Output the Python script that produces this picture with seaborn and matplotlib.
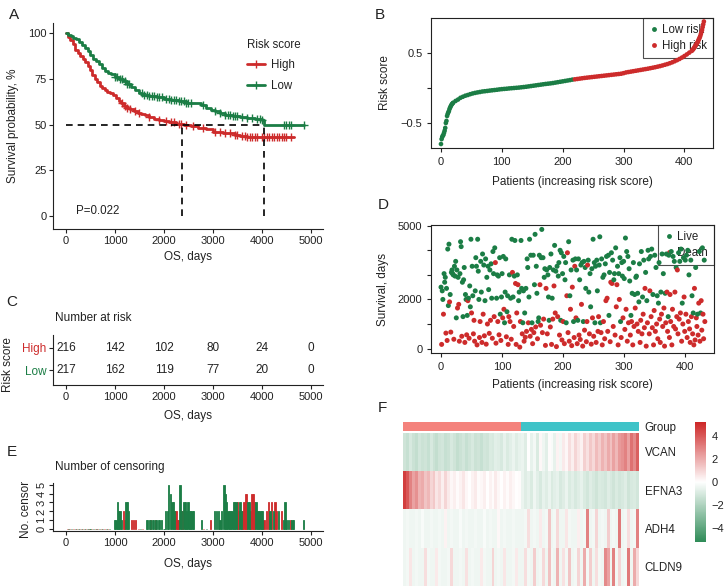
import numpy as np
import matplotlib
matplotlib.use("Agg")
import matplotlib.pyplot as plt
import seaborn as sns
from matplotlib.lines import Line2D
from matplotlib.colors import LinearSegmentedColormap, ListedColormap

RED = '#CD2B2B'
GREEN = '#1B7D45'
PINK = '#F4827C'
CYAN = '#3FC3C8'
TXT = '#222222'

# ---------------- A: Kaplan-Meier (step points) ----------------
high_time = [0, 40, 90, 140, 190, 240, 290, 340, 390, 440, 490, 540, 590, 640, 690, 740, 790, 840,
             900, 960, 1020, 1080, 1130, 1180, 1240, 1300, 1380, 1460, 1540, 1620, 1700, 1800, 1900,
             2000, 2100, 2250, 2400, 2550, 2700, 2850, 3000, 3200, 3450, 3550, 3700, 4650]
high_surv = [100, 98, 96, 94, 91, 89, 87.5, 86, 84, 82, 80, 77, 75, 73, 71, 70, 69, 68,
             67, 66, 64.5, 63, 61.5, 60, 59, 58.5, 57.5, 56.5, 55.5, 55, 54, 53, 52.5,
             52, 51.5, 50.5, 50, 49, 48, 47.5, 46, 45.5, 44.5, 43.5, 43, 43]
low_time = [0, 50, 100, 150, 200, 260, 320, 380, 440, 500, 560, 620, 680, 740, 800, 860, 920, 1000,
            1080, 1160, 1240, 1320, 1400, 1480, 1560, 1700, 1850, 2000, 2150, 2300, 2450, 2600, 2750,
            2850, 2950, 3050, 3150, 3250, 3400, 3550, 3700, 3850, 4000, 4050, 4850]
low_surv = [100, 99, 98.5, 97.5, 96.5, 95, 93.5, 92, 90, 88, 86, 84.5, 83, 81, 79, 78, 77.5, 76,
            75, 74, 72, 70.5, 69, 67.5, 66, 65.5, 65, 64, 63.5, 63, 62, 61.5, 60.5,
            59, 58, 57.5, 56.5, 55, 54.5, 54, 53.5, 53, 52.5, 50, 50]
cens_km_high = [1150, 1200, 1250, 1300, 1400, 1500, 1700, 1900, 2050, 2150, 2200, 2300, 2350, 2450,
                2600, 2800, 3050, 3150, 3250, 3350, 3450, 3500, 3600, 3650, 3700, 3750, 3800, 3850,
                3900, 4000, 4050, 4100, 4150, 4200, 4250, 4300, 4350, 4400, 4450, 4500, 4600]
cens_km_low = [1000, 1050, 1100, 1150, 1200, 1250, 1280, 1550, 1600, 1650, 1700, 1750, 1800, 1850,
               1900, 1950, 2050, 2100, 2150, 2200, 2250, 2300, 2350, 2400, 2450, 2500, 2550, 2800,
               3050, 3150, 3250, 3300, 3350, 3400, 3450, 3500, 3600, 3700, 3800, 3900, 3950, 4000,
               4450, 4500, 4550, 4600, 4850]
median_high = 2370
median_low = 4050
p_value = "P=0.022"

# ---------------- C: number at risk ----------------
risk_times = [0, 1000, 2000, 3000, 4000, 5000]
n_risk_high = [216, 142, 102, 80, 24, 0]
n_risk_low = [217, 162, 119, 77, 20, 0]

# ---------------- E: number of censoring ----------------
cens_low_time = [60, 120, 190, 250, 310, 370, 430, 490, 560, 620, 690, 750, 820, 880,
                 986, 1020, 1048, 1075, 1102, 1130, 1224, 1252, 1279, 1530,
                 1640, 1670, 1700, 1730, 1760, 1790, 1820, 1850, 1880, 1910, 1940, 2000,
                 2040, 2068, 2095, 2136, 2163, 2190, 2218,
                 2326, 2354, 2408, 2435, 2463, 2490, 2517, 2544, 2571, 2598, 2769, 2870,
                 3040, 3075, 3109, 3143, 3177, 3224, 3252, 3279, 3306, 3333, 3360, 3388, 3415, 3442, 3470,
                 3551, 3578, 3714, 3741, 3878, 3905, 3932, 3959, 3986, 4014,
                 4163, 4231, 4333, 4435, 4469, 4503, 4537, 4612, 4639, 4844]
cens_low_n = [0, 0, 0, 0, 0, 0, 0, 0, 0, 0, 0, 0, 0, 0,
              1, 1, 3, 2, 2, 1, 3, 3, 2, 0,
              1, 1, 1, 1, 1, 1, 1, 1, 1, 1, 1, 0,
              2, 2, 5, 4, 3, 3, 2,
              5, 2, 3, 3, 2, 3, 2, 2, 2, 2, 1, 0,
              2, 2, 2, 1, 2, 5, 4, 3, 2, 2, 2, 2, 3, 3, 3,
              3, 2, 3, 3, 3, 2, 2, 2, 2, 2,
              2, 2, 2, 1, 3, 1, 1, 1, 1, 1]
cens_high_time = [30, 80, 150, 210, 280, 330, 400, 460, 520, 600, 650, 720, 790, 850,
                  1170, 1197, 1340, 1374, 1415, 1480, 1560, 1720, 1820, 2245, 2272, 2300, 2380,
                  2800, 2952, 3497, 3524, 3605, 3633, 3660, 3687, 3769, 3796, 3823, 3850,
                  4041, 4095, 4136, 4197, 4265, 4299, 4401, 4585]
cens_high_n = [0, 0, 0, 0, 0, 0, 0, 0, 0, 0, 0, 0, 0, 0,
               2, 1, 1, 1, 1, 0, 0, 1, 1, 2, 1, 1, 2,
               0, 1, 3, 2, 2, 3, 4, 4, 2, 4, 4, 3,
               1, 2, 3, 3, 3, 2, 2, 1]

# ---------------- B: sorted risk score ----------------
n_patients = 433
n_low_risk = 217
risk_patient = np.r_[0:20, 20:412:4, 412:433]
risk_score = [-0.80, -0.73, -0.70, -0.68, -0.67, -0.64, -0.61, -0.57, -0.50, -0.47,
              -0.40, -0.37, -0.35, -0.33, -0.30, -0.28, -0.26, -0.245, -0.23, -0.22,
              -0.21, -0.185, -0.165, -0.14, -0.125, -0.11, -0.10, -0.088, -0.078, -0.07,
              -0.063, -0.057, -0.05, -0.046, -0.042, -0.037, -0.033, -0.029, -0.025, -0.02,
              -0.016, -0.013, -0.01, -0.006, -0.003, 0.0, 0.003, 0.006, 0.01, 0.014,
              0.018, 0.023, 0.028, 0.033, 0.038, 0.043, 0.048, 0.053, 0.058, 0.062,
              0.066, 0.071, 0.077, 0.083, 0.089, 0.095, 0.101, 0.107, 0.113, 0.12,
              0.124, 0.129, 0.134, 0.139, 0.144, 0.148, 0.152, 0.156, 0.16, 0.164,
              0.168, 0.172, 0.176, 0.18, 0.184, 0.188, 0.192, 0.196, 0.2, 0.204,
              0.212, 0.222, 0.228, 0.234, 0.24, 0.246, 0.252, 0.258, 0.264, 0.27,
              0.276, 0.283, 0.29, 0.297, 0.305, 0.313, 0.322, 0.332, 0.342, 0.354,
              0.367, 0.382, 0.398, 0.415, 0.435, 0.457, 0.48, 0.505,
              0.53, 0.54, 0.55, 0.56, 0.575, 0.59, 0.60, 0.615, 0.63, 0.645,
              0.66, 0.68, 0.70, 0.72, 0.74, 0.77, 0.80, 0.83, 0.87, 0.91, 0.95]

# ---------------- D: survival per patient (L = live, D = death) ----------------
surv_days = [
    2500, 170, 2350, 2000, 1400, 3050, 2700, 2900, 630, 2450, 330, 4050, 1750, 4250, 1900, 2200, 670, 3100, 3200, 3050,
    3000, 380, 3350, 2950, 3550, 1250, 3200, 1650, 2900, 1800, 300, 3050, 4350, 4150, 500, 2700, 1300, 2800, 3300, 250,
    2200, 2000, 560, 1350, 1950, 2050, 420, 2550, 1700, 4450, 1450, 3350, 2150, 600, 1150, 300, 2350, 3700, 3350, 150,
    4450, 3150, 2000, 450, 1100, 3550, 2300, 250, 3850, 1400, 3400, 520, 1950, 3650, 180, 2900, 1000, 3350, 2400, 620,
    3200, 1150, 3450, 2050, 420, 3950, 3050, 1300, 4100, 3500, 220, 2050, 3000, 1100, 2950, 560, 3700, 1400, 330, 2100,
    3050, 1250, 3750, 1600, 1050, 2300, 3650, 480, 1500, 2150, 170, 1300, 3000, 1100, 2050, 380, 4450, 3100, 2100, 900,
    2950, 4400, 2650, 170, 1450, 3000, 2600, 1950, 2300, 60, 1100, 4400, 2450, 600, 1050, 2350, 300, 1450, 460, 2450,
    700, 3650, 3300, 1050, 2100, 4450, 500, 3800, 780, 1050, 200, 3800, 650, 2600, 4650, 880, 3350, 2250, 400, 1100,
    1250, 3800, 2600, 950, 3700, 4850, 650, 3700, 1200, 2900, 3250, 130, 2450, 3200, 600, 3000, 2100, 1150, 3300, 880,
    3850, 170, 2050, 1200, 3200, 2550, 4200, 1450, 3150, 80, 3350, 1300, 2950, 3500, 550, 4000, 1150, 3900, 350, 3050,
    1100, 3750, 200, 2800, 3500, 1050, 2150, 3900, 650, 4350, 300, 2150, 1600, 3200, 120, 2500, 3600, 1100, 450, 3350,
    3650, 1250, 3200, 200, 1150, 3650, 550, 2800, 370, 3400, 1800, 3500, 100, 1100, 3550, 750, 3300, 2450, 280, 1100,
    3400, 3600, 2300, 600, 3050, 1700, 180, 3250, 1250, 4450, 500, 3500, 1050, 3350, 250, 3600, 2350, 700, 1300, 3400,
    4550, 1050, 650, 3650, 150, 2900, 1100, 3000, 400, 3450, 1950, 3750, 2050, 700, 3800, 1350, 3100, 280, 2700, 3900,
    2650, 3600, 900, 2800, 3050, 550, 4100, 1700, 2600, 3350, 150, 3050, 2000, 3700, 1100, 450, 3500, 2950, 1250, 3550,
    2850, 780, 4500, 1600, 3950, 300, 3750, 1050, 3250, 2750, 550, 1350, 1100, 2250, 150, 3500, 900, 2200, 1650, 2900,
    2950, 1000, 2250, 700, 1900, 3450, 250, 1150, 3950, 600, 2100, 1400, 3600, 850, 2450, 3100, 100, 1950, 1050, 4000,
    3650, 600, 2350, 3750, 1300, 4050, 850, 2200, 150, 1550, 3800, 700, 3300, 1000, 2150, 400, 1850, 3500, 1200, 250,
    2300, 1400, 3850, 900, 3050, 1650, 100, 2250, 1050, 3850, 2300, 700, 1300, 3800, 450, 2200, 1100, 3950, 150, 1600,
    3750, 900, 3550, 2300, 800, 3300, 1300, 3200, 600, 3900, 1200, 3550, 1450, 4050, 300, 1850, 1000, 3700, 2100, 700,
    3600, 1400, 3800, 450, 4000, 1100, 3000, 800, 250, 3600, 1300, 2150, 600, 1450, 150, 2450, 350, 3300, 1250, 900,
    1400, 550, 1850, 3950, 300, 1450, 1950, 750, 4100, 1400, 400, 3600, 1100]
surv_status = ("LDLLDLLLDLDLLLDLDLLL" "LDLLLLLDLDDLLLDLLLLD" "LLDLDLDLLLDLLDDDLLLD" "LLLDDLLDLDLDLLDLDLLD"
               "LDLLDLLDLDDLLDLDLLDL" "LDLDLLLDLLDDLDLDLDLD" "LLDDDLDLLDDLLDLLDLDL" "DLLDLLDLDLDLDLLDLLDL"
               "LLDDLLDLDLLDDLDLLLLD" "LDLDLDLDLDLDLLDLLLDL" "DLDLLLDDDLDLDLDDLLDD" "LDLDLLDLDLDLDLLDLLDD"
               "DLLDLLDLDLDLLLDLLDDL" "LLDLDLDLDLDLDDLLLDDL" "DLDLLDLDDLDLDLLDLLDL" "LDLDLDLDLLDLDLDLDLDL"
               "LDLDLLDDLDLDLDDLDLDL" "LDDLDLDLDDLDLDLDLLDD" "LDLDLDDLDLDDLLDDDLDD" "LDLDDLDDDLDLDLDLDLDD"
               "LDLDLDLDDLDLDLDDDLDD" "LDDLDLDDLDDLD")

# ---------------- F: expression heatmap (columns = patient bins) ----------------
genes = ['VCAN', 'EFNA3', 'ADH4', 'CLDN9']
group = ['high'] * 40 + ['low'] * 40
vcan = [-1.2, -1.4, -1.0, -1.3, -1.5, -1.1, -1.3, -1.2, -1.4, -1.0,
        -1.3, -1.5, -1.2, -1.1, -1.4, -1.3, -1.0, -1.2, -1.5, -1.3,
        -1.1, -1.4, -1.2, -1.0, -1.3, -1.2, -1.4, -1.1, -1.2, -0.9,
        -1.0, -0.7, -0.8, -1.0, -0.6, -0.9, -0.7, -0.5, -0.8, -0.6,
        -0.5, -0.8, 0.0, -0.6, -0.3, -0.9, 0.2, -0.4, -0.7, 0.1,
        -0.2, -0.6, 0.3, -0.3, 0.5, 0.2, 0.8, 0.4, 1.0, 0.6,
        0.3, 1.1, 0.7, 1.3, 0.9, 1.6, 1.2, 1.8, 1.4, 2.0,
        1.5, 2.2, 1.7, 2.4, 2.6, 3.0, 2.2, 3.4, 2.8, 3.8]
efna3 = [4.6, 4.0, 3.0, 2.2, 2.6, 1.8, 2.0, 1.4, 1.7, 1.0,
         1.3, 0.6, 0.9, 0.4, 1.0, 0.5, 0.2, 0.4, 0.1, 0.3,
         0.6, 0.2, 0.0, 0.3, 0.5, 0.1, 0.2, 0.4, 0.0, 0.3,
         0.1, 0.5, 0.2, 0.0, 0.3, 0.1, 0.4, 0.2, 0.0, 0.1,
         -0.5, -0.8, -0.6, -0.9, -0.4, -0.7, -1.0, -0.6, -0.8, -0.5,
         -0.9, -0.7, -0.6, -1.0, -0.8, -0.5, -0.9, -0.7, -1.0, -0.8,
         -0.6, -0.9, -1.1, -0.8, -1.0, -1.2, -0.9, -1.0, -1.1, -0.8,
         -1.0, -1.2, -0.9, -1.1, -1.0, -0.8, -1.2, -1.0, -0.9, -1.1]
adh4 = [-0.4, -0.3, -0.4, -0.4, -0.3, -0.4, -0.2, -0.4, -0.4, -0.3,
        -0.4, -0.4, -0.3, -0.4, 0.3, -0.4, -0.3, -0.4, -0.4, -0.2,
        -0.4, -0.3, -0.4, -0.4, -0.3, -0.4, -0.4, -0.2, -0.4, -0.3,
        -0.4, -0.4, 0.2, -0.4, -0.3, -0.4, -0.4, -0.3, -0.4, -0.4,
        -0.4, -0.3, 0.8, -0.4, -0.3, -0.4, 0.5, -0.4, -0.3, 1.4,
        -0.4, -0.3, 0.9, -0.4, -0.4, 0.6, -0.3, -0.4, -0.4, 0.4,
        -0.4, -0.3, 3.0, -0.4, -0.3, 1.0, -0.4, -0.3, -0.4, 1.2,
        -0.4, -0.3, -0.4, 3.2, -0.4, -0.3, 0.8, -0.4, -0.3, 3.0]
cldn9 = [-0.4, -0.3, 0.6, -0.4, -0.3, -0.4, -0.4, 0.8, -0.3, -0.4,
         -0.4, 0.5, -0.3, -0.4, -0.4, -0.3, 0.9, -0.4, -0.4, -0.3,
         -0.4, 0.7, -0.4, -0.3, -0.4, -0.4, 0.5, -0.3, -0.4, -0.4,
         1.0, -0.4, -0.3, -0.4, 0.6, -0.4, -0.4, -0.3, 0.5, -0.4,
         -0.4, 0.8, -0.3, -0.4, 1.2, -0.4, -0.3, 0.9, -0.4, 1.5,
         -0.3, -0.4, 1.8, -0.4, 0.7, -0.3, 1.4, -0.4, -0.3, 1.0,
         -0.4, 2.0, -0.3, 1.2, -0.4, 0.8, -0.3, -0.4, 2.8, 2.2,
         -0.4, 3.0, -0.3, 1.0, -0.4, -0.3, 3.2, -0.4, 2.0, 0.9]

# ---------------- style ----------------
sns.set_style("ticks")
plt.rcParams['font.family'] = ['Liberation Sans', 'DejaVu Sans']
plt.rcParams['axes.linewidth'] = 0.8
plt.rcParams['axes.edgecolor'] = TXT
plt.rcParams['text.color'] = TXT
plt.rcParams['axes.labelcolor'] = TXT

FS_TICK = 8
FS_LAB = 8.5

W, H = 724, 587
fig = plt.figure(figsize=(W / 100, H / 100), dpi=100)


def box(l, t, r, b):
    # pixel box -> figure fraction
    return [l / W, 1 - b / H, (r - l) / W, (b - t) / H]


def fig_text(x, y, s, **kw):
    fig.text(x / W, 1 - y / H, s, **kw)


def step_at(times, surv, t):
    idx = np.searchsorted(times, t, side='right') - 1
    return np.asarray(surv)[idx]


def gg_style(ax):
    sns.despine(ax=ax)
    ax.tick_params(length=3.2, width=0.8, labelsize=FS_TICK, pad=1.5, colors=TXT)


def r_style(ax):
    for sp in ax.spines.values():
        sp.set_visible(True)
        sp.set_linewidth(0.8)
    ax.tick_params(length=3.2, width=0.8, labelsize=FS_TICK, colors=TXT)
    ax.tick_params(axis='x', pad=3.5)
    ax.tick_params(axis='y', pad=3)


for lbl, x, y in [('A', 14, 15), ('B', 380, 15), ('C', 12, 302), ('D', 383, 205), ('E', 12, 452), ('F', 382, 408)]:
    fig_text(x, y, lbl, fontsize=11, ha='center', va='center')

# --- A ---
axA = fig.add_axes(box(53, 23, 323, 229))
sns.lineplot(x=high_time, y=high_surv, drawstyle='steps-post', color=RED, lw=2, ax=axA)
sns.lineplot(x=low_time, y=low_surv, drawstyle='steps-post', color=GREEN, lw=2, ax=axA)
axA.plot(cens_km_high, step_at(high_time, high_surv, cens_km_high), ls='none', marker='+',
         ms=5.5, mew=1, color=RED)
axA.plot(cens_km_low, step_at(low_time, low_surv, cens_km_low), ls='none', marker='+',
         ms=5.5, mew=1, color=GREEN)
dash = (0, (4, 3))
axA.plot([0, median_low], [50, 50], ls=dash, color='black', lw=1.2)
axA.plot([median_high, median_high], [0, 50], ls=dash, color='black', lw=1.2)
axA.plot([median_low, median_low], [0, 50], ls=dash, color='black', lw=1.2)
axA.text(200, 2.5, p_value, fontsize=8.3, ha='left', va='center')
handles = [Line2D([], [], color=RED, lw=2, marker='+', ms=6, mew=1),
           Line2D([], [], color=GREEN, lw=2, marker='+', ms=6, mew=1)]
leg = axA.legend(handles, ['High', 'Low'], title='Risk score', loc='upper left',
                 bbox_to_anchor=(0.68, 0.975), frameon=False, fontsize=8.3, title_fontsize=8.3,
                 handlelength=1.6, handletextpad=0.5, labelspacing=0.75)
leg._legend_box.align = 'left'
axA.set_xlim(-265, 5245)
axA.set_ylim(-7.1, 105.5)
axA.set_xticks(range(0, 5001, 1000))
axA.set_yticks([0, 25, 50, 75, 100])
axA.set_xlabel('OS, days', fontsize=FS_LAB)
axA.set_ylabel('Survival probability, %', fontsize=FS_LAB)
gg_style(axA)
axA.xaxis.set_label_coords(0.5, -0.105)
axA.yaxis.set_label_coords(-0.126, 0.5)

# --- C ---
axC = fig.add_axes(box(53, 335, 323, 385))
for t, nh, nl in zip(risk_times, n_risk_high, n_risk_low):
    axC.text(t, 2, str(nh), ha='center', va='center', fontsize=8.5)
    axC.text(t, 1, str(nl), ha='center', va='center', fontsize=8.5)
axC.set_xlim(-265, 5245)
axC.set_ylim(0.32, 2.59)
axC.set_xticks(range(0, 5001, 1000))
axC.set_yticks([1, 2])
axC.set_yticklabels(['Low', 'High'])
gg_style(axC)
axC.tick_params(axis='y', labelsize=8.5)
axC.get_yticklabels()[0].set_color(GREEN)
axC.get_yticklabels()[1].set_color(RED)
axC.set_xlabel('OS, days', fontsize=FS_LAB)
axC.set_ylabel('Risk score', fontsize=FS_LAB)
axC.xaxis.set_label_coords(0.5, -0.5)
axC.yaxis.set_label_coords(-0.144, 0.4)
fig_text(55, 318, 'Number at risk', fontsize=8.5, ha='left', va='center')

# --- E ---
axE = fig.add_axes(box(53, 483, 323, 531))
axE.bar(cens_high_time, cens_high_n, width=22, color=RED, edgecolor=RED, linewidth=0.6)
axE.bar(cens_low_time, cens_low_n, width=22, color=GREEN, edgecolor=GREEN, linewidth=0.6)
axE.set_xlim(-265, 5245)
axE.set_ylim(-0.19, 5.18)
axE.set_xticks(range(0, 5001, 1000))
axE.set_yticks(range(0, 6))
gg_style(axE)
axE.set_yticklabels([str(v) for v in range(0, 6)], rotation=90, va='center')
axE.set_xlabel('OS, days', fontsize=FS_LAB)
axE.set_ylabel('No. censor', fontsize=FS_LAB)
axE.xaxis.set_label_coords(0.5, -0.56)
axE.yaxis.set_label_coords(-0.078, 0.45)
fig_text(55, 467, 'Number of censoring', fontsize=8.5, ha='left', va='center')

# --- B ---
axB = fig.add_axes(box(431, 18, 713, 148))
risk_group = np.where(risk_patient < n_low_risk, 'Low risk', 'High risk')
sns.scatterplot(x=risk_patient, y=risk_score, hue=risk_group,
                palette={'Low risk': GREEN, 'High risk': RED}, s=11, linewidth=0,
                legend=False, ax=axB, zorder=3)
axB.set_xlim(-16.4, 447)
axB.set_ylim(-0.857, 1.0)
axB.set_xticks(range(0, 401, 100))
axB.set_yticks([-0.5, 0, 0.5])
axB.set_yticklabels(['\u22120.5', '', '0.5'])
r_style(axB)
axB.set_xlabel('Patients (increasing risk score)', fontsize=FS_LAB)
axB.set_ylabel('Risk score', fontsize=FS_LAB)
axB.xaxis.set_label_coords(0.5, -0.215)
axB.yaxis.set_label_coords(-0.142, 0.5)
hB = [Line2D([], [], ls='none', marker='o', ms=3.5, mew=0, color=GREEN),
      Line2D([], [], ls='none', marker='o', ms=3.5, mew=0, color=RED)]
legB = axB.legend(hB, ['Low risk', 'High risk'], loc='upper right', bbox_to_anchor=(1, 1),
                  borderaxespad=0, fancybox=False, edgecolor=TXT, fontsize=8.3,
                  handlelength=0.8, handletextpad=0.3, labelspacing=0.3, borderpad=0.55)
legB.get_frame().set_linewidth(0.8)
legB.set_zorder(1)

# --- D ---
axD = fig.add_axes(box(431, 225, 714, 353))
status_label = np.where(np.array(list(surv_status)) == 'L', 'Live', 'Death')
sns.scatterplot(x=np.arange(n_patients), y=surv_days, hue=status_label,
                palette={'Live': GREEN, 'Death': RED}, s=13, linewidth=0,
                legend=False, ax=axD, zorder=3)
axD.set_xlim(-16.4, 447)
axD.set_ylim(-180, 5030)
axD.set_xticks(range(0, 401, 100))
axD.set_yticks(range(0, 5001, 1000))
axD.set_yticklabels(['0', '', '2000', '', '', '5000'])
r_style(axD)
axD.set_xlabel('Patients (increasing risk score)', fontsize=FS_LAB)
axD.set_ylabel('Survival, days', fontsize=FS_LAB)
axD.xaxis.set_label_coords(0.5, -0.2)
axD.yaxis.set_label_coords(-0.148, 0.5)
hD = [Line2D([], [], ls='none', marker='o', ms=3.5, mew=0, color=GREEN),
      Line2D([], [], ls='none', marker='o', ms=3.5, mew=0, color=RED)]
legD = axD.legend(hD, ['Live', 'Death'], loc='upper right', bbox_to_anchor=(1, 1),
                  borderaxespad=0, fancybox=False, edgecolor=TXT, fontsize=8.3,
                  handlelength=0.8, handletextpad=0.3, labelspacing=0.3, borderpad=0.55)
legD.get_frame().set_linewidth(0.8)
legD.set_zorder(1)

# --- F ---
axG = fig.add_axes(box(403, 422, 639, 431))
group_code = [[0 if g == 'high' else 1 for g in group]]
sns.heatmap(group_code, cmap=ListedColormap([PINK, CYAN]), cbar=False, ax=axG,
            xticklabels=False, yticklabels=['Group'])
axF = fig.add_axes(box(403, 432.5, 639, 586))
axCb = fig.add_axes(box(695, 422, 706, 542))
cmap = LinearSegmentedColormap.from_list('gwr', ['#2E8B57', '#FFFFFF', '#CD2626'])
sns.heatmap(np.array([vcan, efna3, adh4, cldn9]), cmap=cmap, vmin=-5.2, vmax=5.2, ax=axF,
            cbar_ax=axCb, xticklabels=False, yticklabels=genes)
for ax in (axG, axF):
    ax.yaxis.tick_right()
    ax.tick_params(axis='y', length=0, labelsize=8.3, pad=4, rotation=0, colors=TXT)
cb = axF.collections[0].colorbar
cb.set_ticks([-4, -2, 0, 2, 4])
cb.set_ticklabels(['\u22124', '\u22122', '0', '2', '4'])
cb.outline.set_visible(False)
axCb.tick_params(length=0, labelsize=8, pad=4, colors=TXT)

fig.savefig('out.png', dpi=100)
